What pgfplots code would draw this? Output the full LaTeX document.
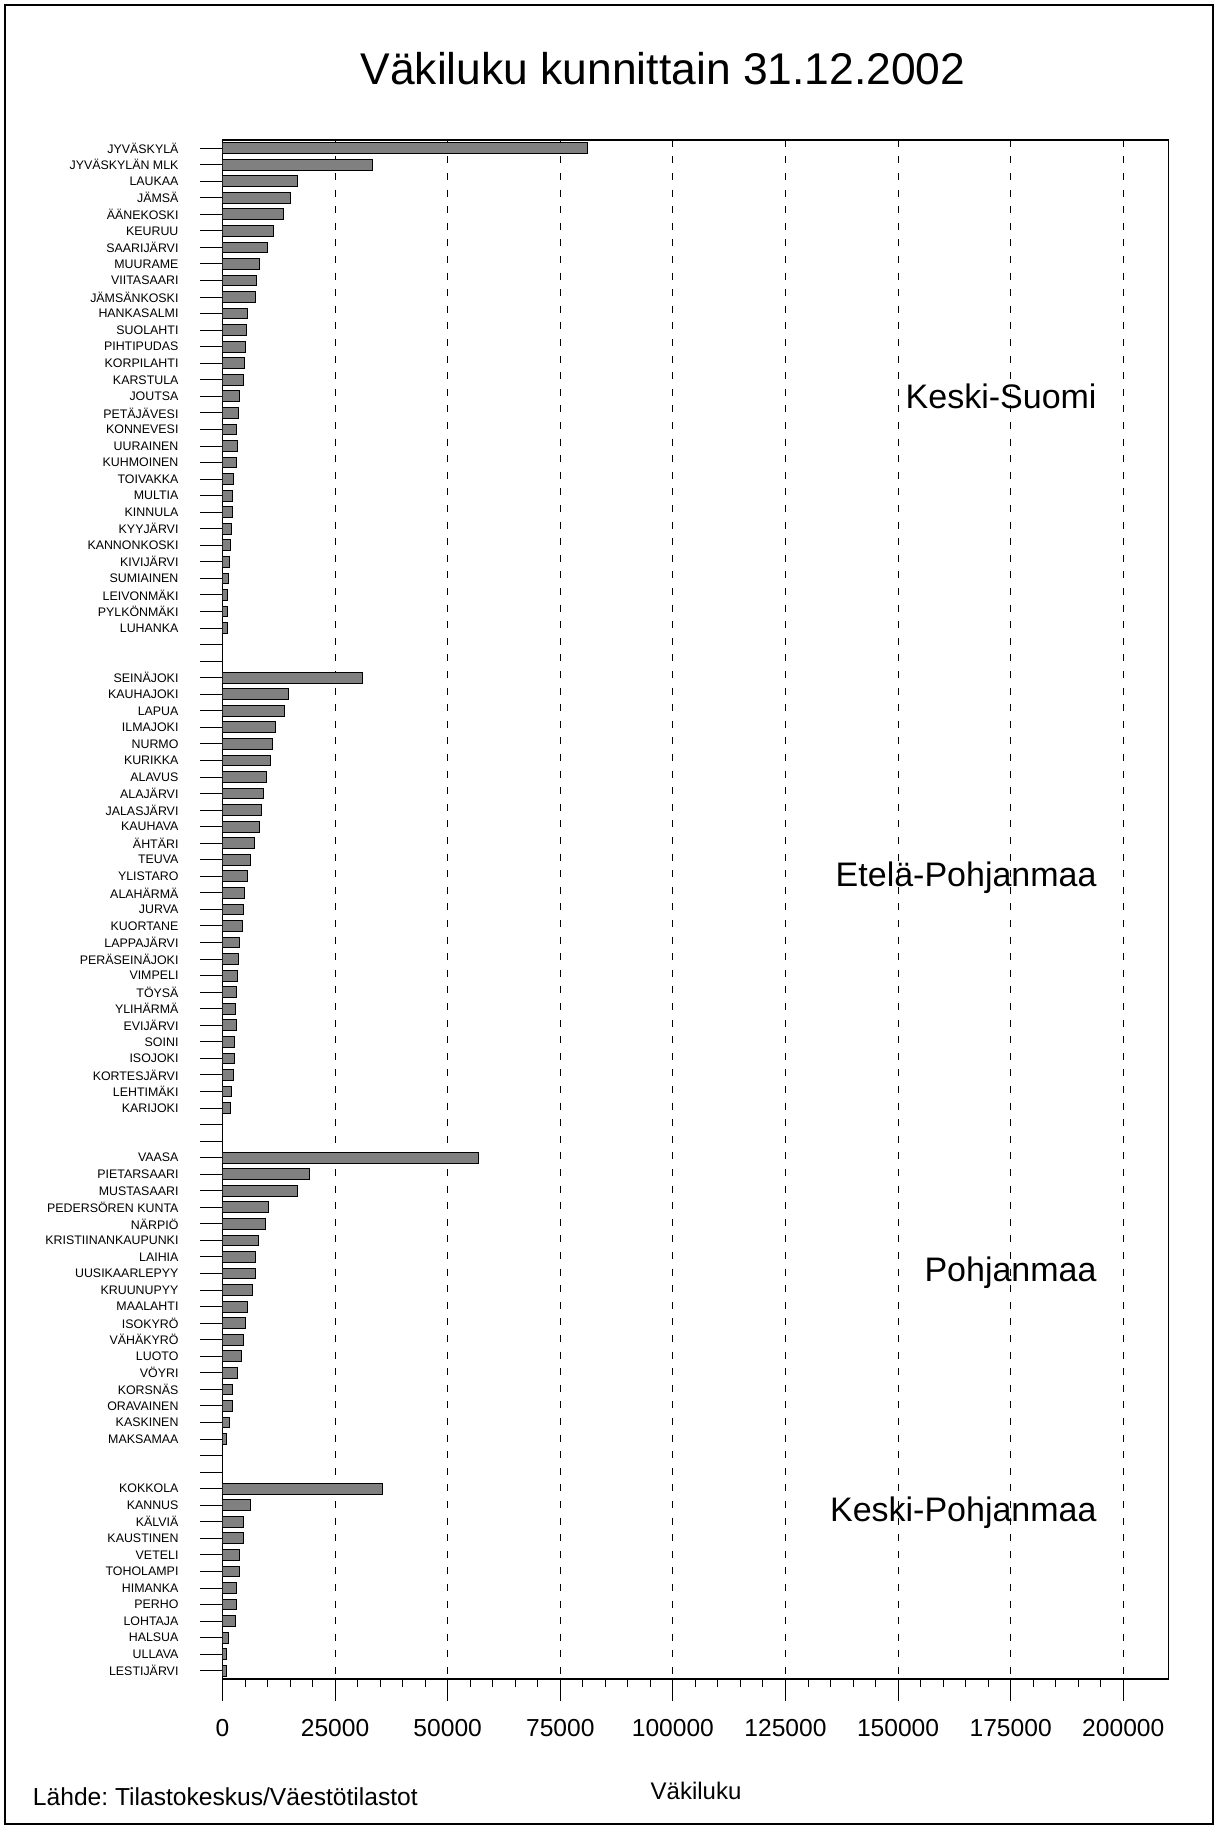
\documentclass[border=0pt]{standalone}
\usepackage{fontspec}
\setmainfont{Liberation Sans}
\usepackage{pgfplots}
\pgfplotsset{compat=1.18}
\usepackage{pgfplotstable}
\frenchspacing

\pgfplotstableread{
idx val
0 81050
1 33390
2 16630
3 15120
4 13450
5 11340
6 10030
7 8280
8 7660
9 7390
10 5460
11 5370
12 5040
13 4950
14 4750
15 3860
16 3510
17 3150
18 3240
19 3090
20 2460
21 2110
22 2110
23 1930
24 1750
25 1580
26 1310
27 1150
28 1070
29 1070
32 31170
33 14570
34 13780
35 11770
36 11150
37 10630
38 9750
39 9040
40 8700
41 8170
42 7020
43 6240
44 5620
45 4930
46 4750
47 4400
48 3860
49 3600
50 3330
51 3060
52 2970
53 3060
54 2640
55 2640
56 2460
57 2020
58 1750
61 56880
62 19310
63 16760
64 10280
65 9570
66 7990
67 7370
68 7370
69 6750
70 5620
71 5080
72 4570
73 4220
74 3420
75 2200
76 2200
77 1580
78 950
81 35630
82 6150
83 4660
84 4590
85 3850
86 3850
87 3030
88 3030
89 2810
90 1410
91 960
92 960
}\datatable

\begin{document}
\begin{tikzpicture}
\useasboundingbox (0,0) rectangle (608.5bp,-913.5bp);
\draw[line width=1bp] (2.5bp,-2.5bp) rectangle (606.5bp,-912bp);
\node[anchor=base, inner sep=0pt, font=\fontsize{22.2bp}{26bp}\selectfont] at (331.5bp,-42bp) {Väkiluku kunnittain 31.12.2002};
\begin{axis}[
  at={(111.25bp,-839.5bp)}, anchor=south west,
  scale only axis, width=472.9bp, height=769.6bp,
  xmin=0, xmax=210000, ymin=-0.5, ymax=92.5, y dir=reverse,
  xbar, bar width=0.65,
  xtick={0,25000,50000,75000,100000,125000,150000,175000,200000},
  xticklabels={0,25000,50000,75000,100000,125000,150000,175000,200000},
  scaled x ticks=false,
  minor x tick num=4,
  ytick={0,...,92},
  yticklabels={JYVÄSKYLÄ,JYVÄSKYLÄN MLK,LAUKAA,JÄMSÄ,ÄÄNEKOSKI,KEURUU,SAARIJÄRVI,MUURAME,VIITASAARI,JÄMSÄNKOSKI,HANKASALMI,SUOLAHTI,PIHTIPUDAS,KORPILAHTI,KARSTULA,JOUTSA,PETÄJÄVESI,KONNEVESI,UURAINEN,KUHMOINEN,TOIVAKKA,MULTIA,KINNULA,KYYJÄRVI,KANNONKOSKI,KIVIJÄRVI,SUMIAINEN,LEIVONMÄKI,PYLKÖNMÄKI,LUHANKA,{},{},SEINÄJOKI,KAUHAJOKI,LAPUA,ILMAJOKI,NURMO,KURIKKA,ALAVUS,ALAJÄRVI,JALASJÄRVI,KAUHAVA,ÄHTÄRI,TEUVA,YLISTARO,ALAHÄRMÄ,JURVA,KUORTANE,LAPPAJÄRVI,PERÄSEINÄJOKI,VIMPELI,TÖYSÄ,YLIHÄRMÄ,EVIJÄRVI,SOINI,ISOJOKI,KORTESJÄRVI,LEHTIMÄKI,KARIJOKI,{},{},VAASA,PIETARSAARI,MUSTASAARI,PEDERSÖREN KUNTA,NÄRPIÖ,KRISTIINANKAUPUNKI,LAIHIA,UUSIKAARLEPYY,KRUUNUPYY,MAALAHTI,ISOKYRÖ,VÄHÄKYRÖ,LUOTO,VÖYRI,KORSNÄS,ORAVAINEN,KASKINEN,MAKSAMAA,{},{},KOKKOLA,KANNUS,KÄLVIÄ,KAUSTINEN,VETELI,TOHOLAMPI,HIMANKA,PERHO,LOHTAJA,HALSUA,ULLAVA,LESTIJÄRVI},
  tick align=outside, xtick pos=left, ytick pos=left,
  major tick length=11bp, minor tick length=4bp,
  xmajorgrids,
  major grid style={black, line width=0.5bp, dash pattern=on 3.5bp off 4.8bp},
  axis line style={line width=0.8bp},
  tick style={black, line width=0.5bp},
  yticklabel style={font=\fontsize{6.2bp}{7bp}\selectfont, xshift=-7.5bp},
  xticklabel style={font=\fontsize{12.3bp}{14bp}\selectfont, yshift=-5.75bp},
  /pgf/number format/assume math mode=true,
]
\addplot[fill=black!50, draw=black, line width=0.5bp] table[x=val, y=idx] {\datatable};
\node[anchor=base east, inner sep=0pt, font=\fontsize{17bp}{20bp}\selectfont] at (axis cs:194160,15.75) {Keski-Suomi};
\node[anchor=base east, inner sep=0pt, font=\fontsize{17bp}{20bp}\selectfont] at (axis cs:194160,44.6) {Etelä-Pohjanmaa};
\node[anchor=base east, inner sep=0pt, font=\fontsize{17bp}{20bp}\selectfont] at (axis cs:194160,68.5) {Pohjanmaa};
\node[anchor=base east, inner sep=0pt, font=\fontsize{17bp}{20bp}\selectfont] at (axis cs:194160,83.0) {Keski-Pohjanmaa};
\end{axis}
\node[anchor=base, inner sep=0pt, font=\fontsize{12bp}{14bp}\selectfont] at (348bp,-899.5bp) {Väkiluku};
\node[anchor=base west, inner sep=0pt, font=\fontsize{12.3bp}{14bp}\selectfont] at (16.3bp,-902.5bp) {Lähde: Tilastokeskus/Väestötilastot};
\end{tikzpicture}
\end{document}
